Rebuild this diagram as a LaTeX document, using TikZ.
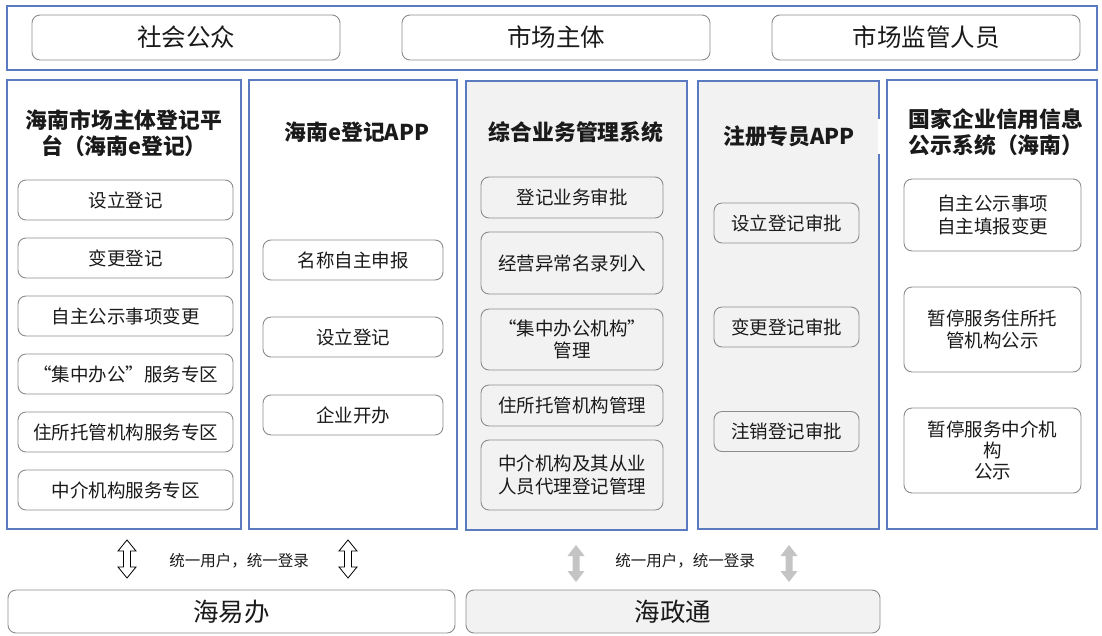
\documentclass[tikz,border=0pt]{standalone}
\usepackage{fontspec}
\setmainfont{Noto Sans CJK SC}
\definecolor{panelblue}{HTML}{5B7BC0}
\definecolor{panelgray}{HTML}{F2F2F2}
\definecolor{itemgray}{HTML}{8C8C8C}
\definecolor{txt}{HTML}{1A1A1A}
\definecolor{arrgray}{HTML}{C4C4C4}
\tikzset{
  panel/.style={draw=panelblue, line width=1.3pt},
  graypanel/.style={panel, fill=panelgray},
  item/.style={draw=itemgray, rounded corners=8pt, line width=0.9pt, fill=white, text=txt,
    align=center, inner sep=2pt, font=\fontsize{18.5}{22.5}\selectfont},
  grayitem/.style={item, fill=panelgray},
  topitem/.style={item, font=\fontsize{24.5}{28}\selectfont, minimum width=308pt, minimum height=45pt},
  title/.style={text=txt, align=center, font=\bfseries\fontsize{21.8}{26.5}\selectfont},
  lbl/.style={text=txt, font=\fontsize{15.5}{18}\selectfont},
  hollowdbl/.pic={\draw[line width=0.8pt, fill=white] (0,0) -- (9,11) -- (3.5,11) -- (3.5,27) -- (9,27) -- (0,38) -- (-9,27) -- (-3.5,27) -- (-3.5,11) -- (-9,11) -- cycle;},
  graydbl/.pic={\fill[arrgray] (0,0) -- (8.5,11) -- (3.5,11) -- (3.5,26) -- (8.5,26) -- (0,37) -- (-8.5,26) -- (-3.5,26) -- (-3.5,11) -- (-8.5,11) -- cycle;}
}
\begin{document}
\begin{tikzpicture}[x=1pt,y=-1pt]
\useasboundingbox (0,0) rectangle (1102,635);
\fill[white] (0,0) rectangle (1102,635);

% top bar
\draw[panel] (7,6) rectangle (1097,70);
\node[topitem] (pub) at (186,37.5) {社会公众};
\node[topitem] (mkt) at (556,37.5) {市场主体};
\node[topitem] (sup) at (926,37.5) {市场监管人员};

% panels
\draw[panel] (7,80) rectangle (241,529);
\draw[panel] (249,80) rectangle (457,529);
\draw[graypanel] (466,81) rectangle (687,530);
\draw[graypanel] (698,81) rectangle (879,529);
\draw[white, line width=2pt] (879,119) -- (879,154);
\draw[panel] (887,80) rectangle (1097,529);

% column 1
\node[title] (t1) at (124,133) {海南市场主体登记平\\台（海南e登记）};
\foreach \n/\y/\t in {a1/200/设立登记, a2/258/变更登记, a3/316/自主公示事项变更, a4/374/“集中办公”服务专区, a5/432/住所托管机构服务专区, a6/490/中介机构服务专区}
  \node[item, minimum width=215pt, minimum height=40pt] (\n) at (125.5,\y) {\t};

% column 2
\node[title] (t2) at (357,132) {海南e登记APP};
\foreach \n/\y/\t in {b1/260/名称自主申报, b2/337/设立登记, b3/415/企业开办}
  \node[item, minimum width=180pt, minimum height=40pt] (\n) at (353,\y) {\t};

% column 3
\node[title] (t3) at (576,132) {综合业务管理系统};
\node[grayitem, minimum width=182pt, minimum height=41pt] (c1) at (572,197.5) {登记业务审批};
\node[grayitem, minimum width=182pt, minimum height=62pt] (c2) at (572,263) {经营异常名录列入};
\node[grayitem, minimum width=182pt, minimum height=61pt] (c3) at (572,339.5) {“集中办公机构”\\管理};
\node[grayitem, minimum width=182pt, minimum height=41pt] (c4) at (572,405.5) {住所托管机构管理};
\node[grayitem, minimum width=182pt, minimum height=70pt] (c5) at (572,475) {中介机构及其从业\\人员代理登记管理};

% column 4
\node[title] (t4) at (789,136) {注册专员APP};
\foreach \n/\y/\t in {d1/223/设立登记审批, d2/327/变更登记审批, d3/431.5/注销登记审批}
  \node[grayitem, minimum width=145pt, minimum height=40pt] (\n) at (786.5,\y) {\t};

% column 5
\node[title] (t5) at (996,132) {国家企业信用信息\\公示系统（海南）};
\node[item, minimum width=177pt, minimum height=72pt] (e1) at (992.5,215) {自主公示事项\\自主填报变更};
\node[item, minimum width=177pt, minimum height=85pt] (e2) at (992.5,329.5) {暂停服务住所托\\管机构公示};
\node[item, minimum width=177pt, minimum height=85pt, font=\fontsize{18.5}{21}\selectfont] (e3) at (992.5,450.5) {暂停服务中介机\\构\\公示};

% bottom arrows and labels
\pic at (127,540) {hollowdbl};
\pic at (348,540) {hollowdbl};
\node[lbl] (l1) at (239,561) {统一用户，统一登录};
\pic at (576,545) {graydbl};
\pic at (789,545) {graydbl};
\node[lbl] (l2) at (685,561) {统一用户，统一登录};

% bottom bars
\node[item, minimum width=447pt, minimum height=43pt, font=\fontsize{25.5}{28}\selectfont] (hyb) at (231.5,611.5) {海易办};
\node[grayitem, minimum width=414pt, minimum height=43pt, font=\fontsize{25.5}{28}\selectfont] (hzt) at (673,611.5) {海政通};
\end{tikzpicture}
\end{document}
